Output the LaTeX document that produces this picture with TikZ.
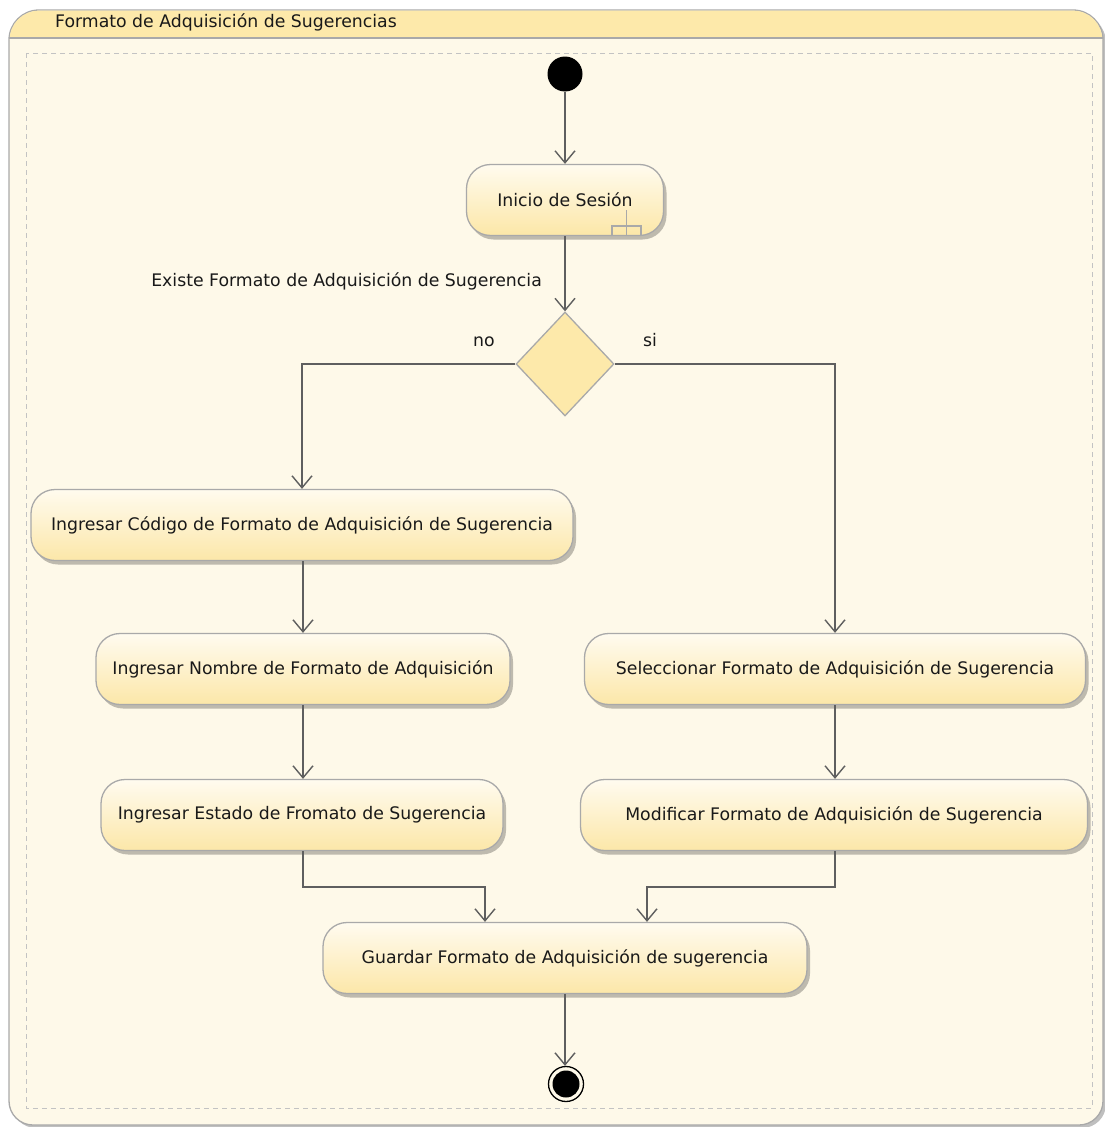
\documentclass[tikz,border=0pt]{standalone}
\usepackage{fontspec}
\setmainfont{DejaVu Sans}
\usetikzlibrary{arrows.meta,shapes.geometric,shadows,calc}
\definecolor{bgc}{HTML}{FEF9E9}
\definecolor{hdr}{HTML}{FDE9AA}
\definecolor{nodetop}{HTML}{FFFBEF}
\definecolor{nodebot}{HTML}{FCE7A8}
\definecolor{bord}{HTML}{A9A9A9}
\definecolor{linec}{HTML}{5F5F5F}
\tikzset{
  act/.style={rectangle, rounded corners=24pt, draw=bord, line width=1.3pt,
    top color=nodetop, bottom color=nodebot, minimum height=71pt,
    font=\fontsize{17.3}{20}\selectfont, text=black!90,
    drop shadow={shadow xshift=3pt, shadow yshift=-4pt, opacity=0.25, fill=black}},
  conn/.style={draw=linec, line width=1.4pt,
    -{Straight Barb[length=12pt,width=20pt,line width=1.4pt]}},
  lbl/.style={font=\fontsize{17.3}{20}\selectfont, text=black!90, inner sep=0pt},
}
\begin{document}
\begin{tikzpicture}[x=1pt,y=-1pt]
\useasboundingbox (0,0) rectangle (1104,1127);
\fill[white] (0,0) rectangle (1104,1127);
% frame shadow
\fill[black!25]
  (12,43) arc[start angle=180,end angle=270,radius=30] -- (1076,13)
  arc[start angle=270,end angle=360,radius=30] -- (1106,1104)
  arc[start angle=0,end angle=90,radius=24] -- (36,1128)
  arc[start angle=90,end angle=180,radius=24] -- cycle;
% frame
\filldraw[fill=bgc, draw=bord, line width=1.3pt]
  (9,40) arc[start angle=180,end angle=270,radius=30] -- (1073,10)
  arc[start angle=270,end angle=360,radius=30] -- (1103,1101)
  arc[start angle=0,end angle=90,radius=24] -- (33,1125)
  arc[start angle=90,end angle=180,radius=24] -- cycle;
\fill[hdr] (9.65,38) -- (9.65,40) arc[start angle=180,end angle=270,radius=29.35] -- (1073,10.65)
  arc[start angle=270,end angle=360,radius=29.35] -- (1102.35,38) -- cycle;
\draw[bord, line width=1.3pt] (9,38) -- (1103,38);
\node[lbl, anchor=west] (title) at (55,22) {Formato de Adquisición de Sugerencias};
\draw[bord!70, line width=1pt, dash pattern=on 5pt off 4pt] (26,53) rectangle (1092,1108);

% nodes
\node[circle, fill=black, minimum size=35pt, inner sep=0pt] (start) at (565,74) {};
\node[act, minimum width=197pt] (inicio) at (565,200) {Inicio de Sesión};
\draw[bord, line width=1.3pt] (612,236) -- (612,226) -- (641,226) -- (641,236);
\draw[bord, line width=1.3pt] (626.5,210) -- (626.5,236);
\node[diamond, draw=bord, line width=1.3pt, fill=hdr, minimum width=98pt, minimum height=104pt, inner sep=0pt] (dec) at (565,364) {};
\node[act, minimum width=542pt] (ing1) at (302,525) {Ingresar Código de Formato de Adquisición de Sugerencia};
\node[act, minimum width=414pt] (ing2) at (303,669) {Ingresar Nombre de Formato de Adquisición};
\node[act, minimum width=402pt] (ing3) at (302,815) {Ingresar Estado de Fromato de Sugerencia};
\node[act, minimum width=501pt] (sel) at (835,669) {Seleccionar Formato de Adquisición de Sugerencia};
\node[act, minimum width=507pt] (mod) at (834,815) {Modificar Formato de Adquisición de Sugerencia};
\node[act, minimum width=484pt] (guar) at (565,958) {Guardar Formato de Adquisición de sugerencia};
\node[circle, draw=black, line width=1.3pt, fill=bgc, minimum size=35pt, inner sep=0pt] (fin) at (566,1084) {};
\node[circle, fill=black, minimum size=27pt, inner sep=0pt] (finin) at (566,1084) {};

% labels
\node[lbl, anchor=east] (q) at (542,281) {Existe Formato de Adquisición de Sugerencia};
\node[lbl] (no) at (484,342) {no};
\node[lbl] (si) at (650,340) {si};

% connectors
\draw[conn] (start) -- (inicio);
\draw[conn] (inicio) -- (dec.north);
\draw[conn] (dec.west) -| (ing1.north);
\draw[conn] (dec.east) -| (sel.north);
\draw[conn] ([xshift=1pt]ing1.south) -- ([xshift=1pt]ing1.south |- ing2.north);
\draw[conn] (ing2.south) -- (ing2.south |- ing3.north);
\draw[conn] (sel.south) -- (sel.south |- mod.north);
\coordinate (gl) at ($(guar.north)+(-80,0)$);
\coordinate (gr) at ($(guar.north)+(82,0)$);
\draw[conn] ([xshift=1pt]ing3.south) -- ++(0,36) -| (gl);
\draw[conn] ([xshift=1pt]mod.south) -- ++(0,36) -| (gr);
\draw[conn] (guar.south) -- (guar.south |- fin.north);
\end{tikzpicture}
\end{document}
